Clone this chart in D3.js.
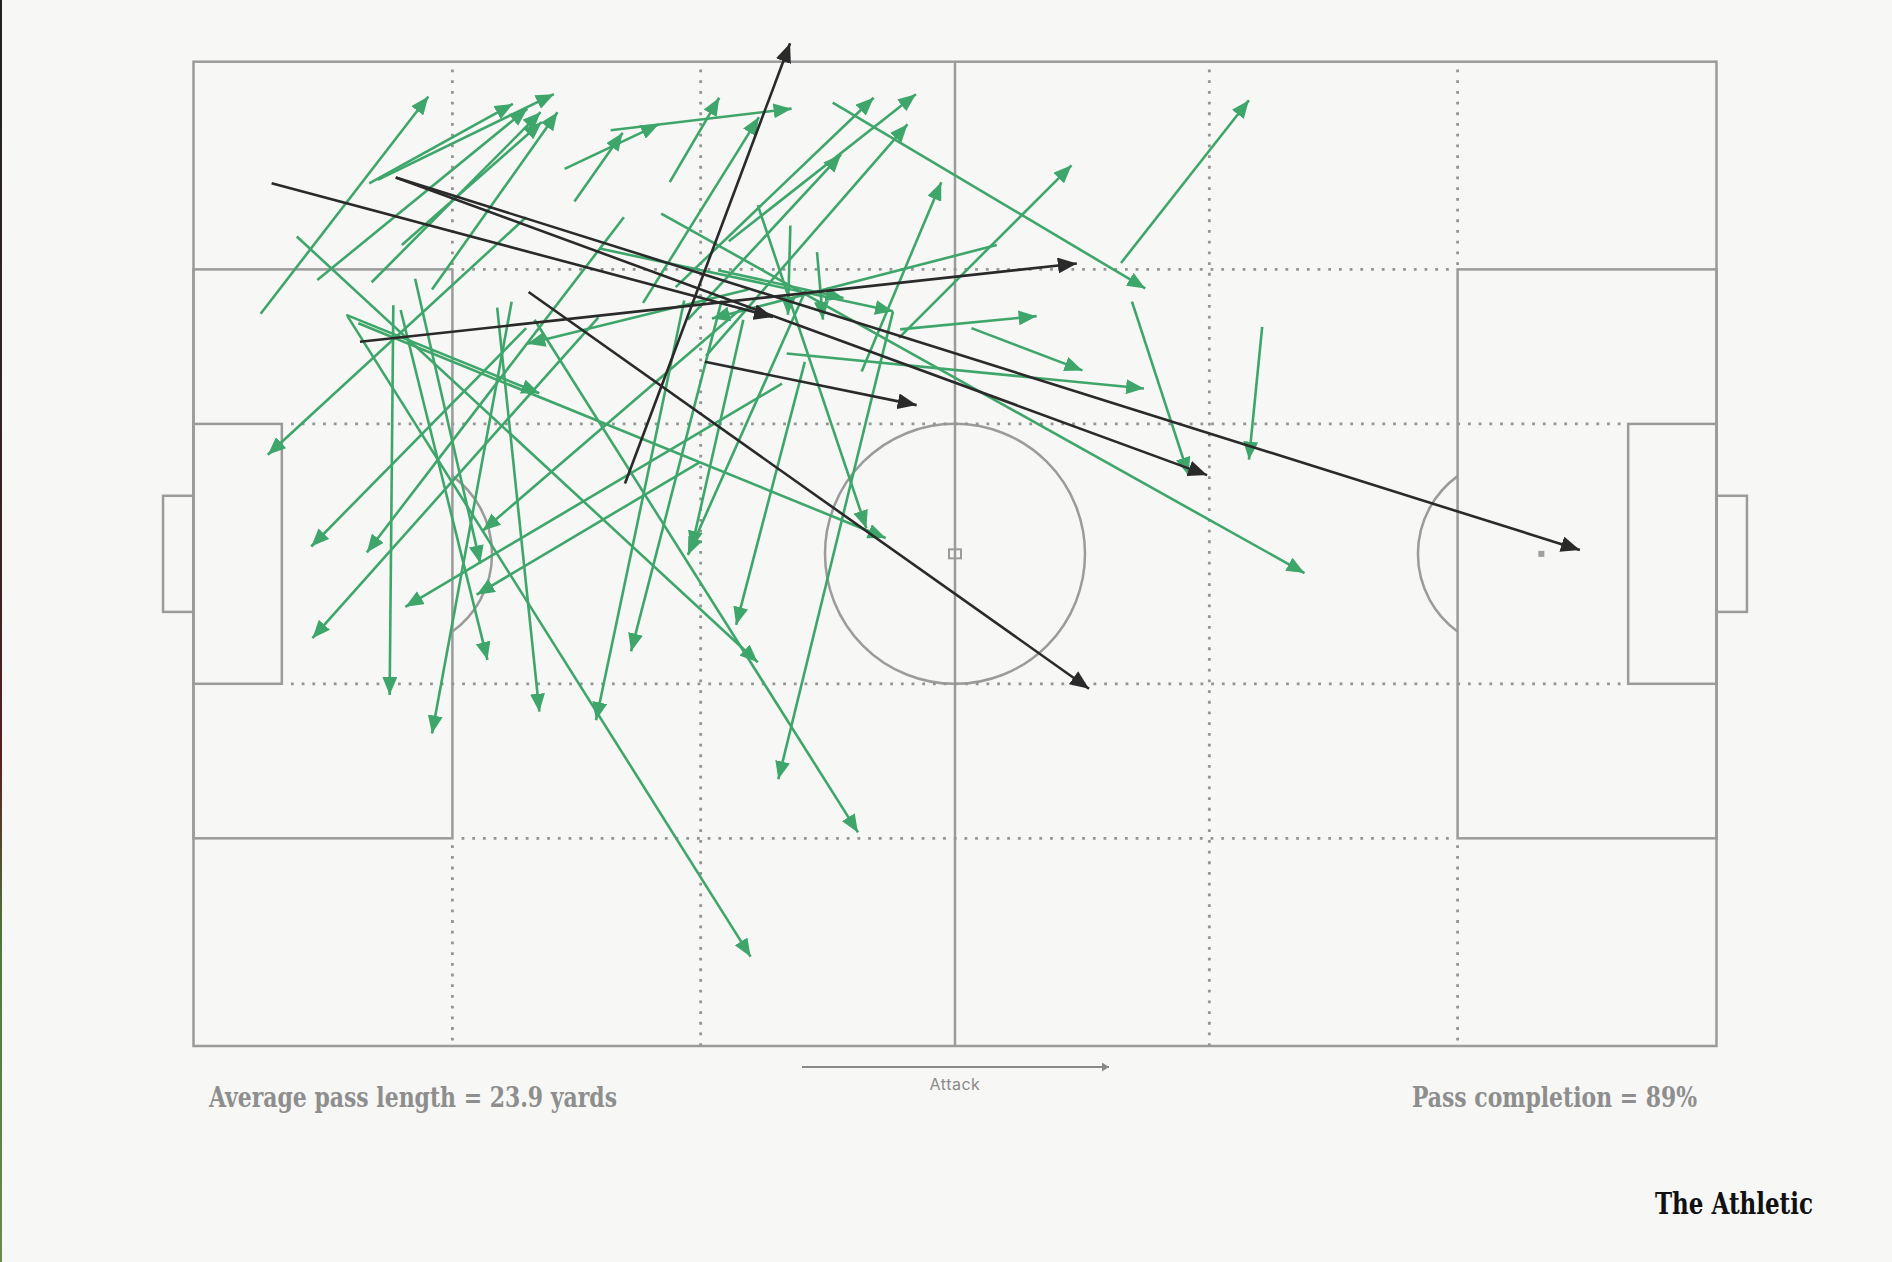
<!DOCTYPE html>
<html><head><meta charset="utf-8">
<script src="https://cdn.jsdelivr.net/npm/d3@7"></script>
<style>html,body{margin:0;padding:0;background:#f7f7f5;}svg{display:block}</style>
</head><body>
<svg id="chart" width="1892" height="1262"></svg>
<script>
// Pass data in Opta pitch units (0-100 x 0-100): [startX, startY, endX, endY]
const completedPasses = [
  [4.41,25.60,15.42,3.54],[11.54,12.37,20.97,4.28],[12.09,12.00,23.66,3.30],[8.13,22.17,21.92,4.77],
  [11.70,22.41,22.79,5.13],[15.66,23.15,23.90,5.13],[13.68,18.62,22.87,6.12],[25.01,14.20,28.18,7.22],
  [24.37,10.89,30.55,6.36],[27.39,6.97,39.27,4.77],[31.27,12.24,34.52,3.66],[29.52,24.50,37.13,5.63],
  [31.66,22.90,44.66,3.66],[35.15,18.25,47.43,3.30],[33.65,29.89,46.88,6.36],[32.46,26.21,42.52,9.42],
  [43.87,31.48,49.10,12.24],[46.32,28.05,57.65,10.53],[60.90,20.45,69.30,3.91],[41.97,4.15,62.49,23.03],
  [70.17,26.95,69.30,40.43],[61.62,24.38,65.34,42.02],[30.71,15.43,72.95,51.95],[51.08,27.07,58.37,31.36],
  [38.95,29.64,62.41,33.20],[46.40,27.19,55.36,25.85],[26.67,18.98,45.93,25.36],[37.05,14.57,44.18,47.41],
  [10.82,26.58,45.45,48.39],[52.74,18.62,34.04,26.09],[39.19,16.65,39.03,25.72],[40.94,19.35,41.33,26.21],
  [6.78,17.76,37.05,61.02],[22.39,26.21,43.63,78.30],[10.11,25.85,36.58,90.92],[45.93,25.36,38.40,72.90],
  [21.84,15.80,4.88,39.94],[21.84,27.07,7.73,49.25],[28.26,15.80,11.38,49.86],[26.59,25.97,7.81,58.57],
  [13.12,24.74,12.88,64.33],[20.89,24.38,15.66,68.25],[13.60,25.23,19.30,60.77],[19.94,24.99,22.71,66.04],
  [32.22,24.25,26.43,66.90],[34.68,24.25,28.73,59.91],[36.10,26.21,32.69,49.50],[40.22,23.15,32.46,50.11],
  [40.14,30.50,35.63,57.22],[36.42,23.15,21.92,28.66],[10.03,25.72,22.71,33.69],[38.64,32.71,13.91,55.38],
  [33.25,40.67,18.59,54.15],[36.02,24.99,18.99,47.66],[34.44,21.19,42.68,24.01],[14.55,22.05,18.83,50.97]
];
const incompletePasses = [
  [5.13,12.36,38.05,25.94],[13.28,11.76,66.55,42.00],[13.28,11.76,91.03,49.60],
  [10.93,28.46,58.00,20.50],[22.00,23.40,58.80,63.70],[28.33,42.85,39.17,-1.87],[33.58,30.49,47.48,34.89]
];
const statLabels = ["Average pass length = 23.9 yards", "Pass completion = 89%"];
const directionLabel = "Attack";
const brandLabel = "The Athletic";

const W = 1892, H = 1262;
const svg = d3.select("#chart");
const BG = "#f7f7f5", LINE = "#9b9b9b", GREEN = "#3fa66b", DARK = "#2a2a2a";

svg.append("rect").attr("width", W).attr("height", H).attr("fill", BG);
const grad = svg.append("defs").append("linearGradient").attr("id","edge").attr("x1",0).attr("y1",0).attr("x2",0).attr("y2",1);
grad.append("stop").attr("offset","0%").attr("stop-color","#222");
grad.append("stop").attr("offset","45%").attr("stop-color","#3a2222");
grad.append("stop").attr("offset","60%").attr("stop-color","#5a1e1e");
grad.append("stop").attr("offset","75%").attr("stop-color","#4d7a3a");
grad.append("stop").attr("offset","100%").attr("stop-color","#6a8a4a");
svg.append("rect").attr("x",0).attr("y",0).attr("width",2).attr("height",H).attr("fill","url(#edge)");

const x = d3.scaleLinear().domain([0, 100]).range([193.5, 1716.5]);
const y = d3.scaleLinear().domain([0, 100]).range([61.7, 1046]);

// markers
const defs = svg.select("defs");
function marker(id, color, len, wid) {
  defs.append("marker").attr("id", id).attr("markerUnits", "userSpaceOnUse")
    .attr("markerWidth", len).attr("markerHeight", wid).attr("refX", len).attr("refY", wid/2)
    .attr("orient", "auto").append("path")
    .attr("d", `M0,0 L${len},${wid/2} L0,${wid} Z`).attr("fill", color);
}
marker("mGreen", GREEN, 18, 15);
marker("mDark", DARK, 19, 16);
marker("mGray", "#8a8a8a", 7, 9);

// pitch
const pitch = svg.append("g").attr("fill", "none").attr("stroke", LINE).attr("stroke-width", 2.5);
const box = (x0, y0, x1, y1) => pitch.append("rect")
  .attr("x", x(x0)).attr("y", y(y0)).attr("width", x(x1) - x(x0)).attr("height", y(y1) - y(y0));
box(0, 0, 100, 100);
box(0, 21.1, 17, 78.9); box(83, 21.1, 100, 78.9);
box(0, 36.8, 5.8, 63.2); box(94.2, 36.8, 100, 63.2);
box(-2, 44.1, 0, 55.9); box(100, 44.1, 102, 55.9);
pitch.append("line").attr("x1", x(50)).attr("x2", x(50)).attr("y1", y(0)).attr("y2", y(100));
pitch.append("circle").attr("cx", x(50)).attr("cy", y(50)).attr("r", 130);
pitch.append("rect").attr("x", x(50) - 6).attr("y", y(50) - 4.5).attr("width", 12).attr("height", 9).attr("stroke-width", 2);
svg.append("rect").attr("x", x(88.5) - 3).attr("y", y(50) - 3)
  .attr("width", 6).attr("height", 6).attr("fill", "#a0a0a0");
// penalty arcs
const arcR = 96;
[[13.3, 17, 1], [86.7, 83, -1]].forEach(([c, edge, dir]) => {
  const cx = x(c), cy = y(50);
  const dx = Math.abs(x(edge) - cx);
  const a = Math.acos(dx / arcR);
  const p = d3.path();
  if (dir > 0) p.arc(cx, cy, arcR, -a, a);
  else p.arc(cx, cy, arcR, Math.PI - a, Math.PI + a);
  pitch.append("path").attr("d", p.toString());
});

// dotted guides
const dots = svg.append("g").attr("stroke", "#959595").attr("stroke-width", 2.8).attr("stroke-dasharray", "2.8 7.9");
const seg = (x1, y1, x2, y2) => dots.append("line").attr("x1", x(x1)).attr("y1", y(y1)).attr("x2", x(x2)).attr("y2", y(y2));
const top0 = 0.8;
[33.3, 66.7].forEach(v => seg(v, top0, v, 100));
[17, 83].forEach(v => { seg(v, top0, v, 21.1); seg(v, 79.6, v, 100); });
[21.1, 78.9].forEach(v => seg(17.6, v, 82.6, v));
[36.8, 63.2].forEach(v => seg(6.4, v, 93.8, v));

// passes
const gPass = svg.append("g").attr("fill", "none");
gPass.selectAll("line.ok").data(completedPasses).join("line").attr("class", "ok")
  .attr("x1", d => x(d[0])).attr("y1", d => y(d[1])).attr("x2", d => x(d[2])).attr("y2", d => y(d[3]))
  .attr("stroke", GREEN).attr("stroke-width", 2.6).attr("marker-end", "url(#mGreen)");
gPass.selectAll("line.ko").data(incompletePasses).join("line").attr("class", "ko")
  .attr("x1", d => x(d[0])).attr("y1", d => y(d[1])).attr("x2", d => x(d[2])).attr("y2", d => y(d[3]))
  .attr("stroke", DARK).attr("stroke-width", 2.6).attr("marker-end", "url(#mDark)");

// attack arrow
svg.append("line").attr("x1", 802).attr("x2", 1109).attr("y1", 1067).attr("y2", 1067)
  .attr("stroke", "#8a8a8a").attr("stroke-width", 2).attr("marker-end", "url(#mGray)");
svg.append("text").attr("x", 955).attr("y", 1090).attr("text-anchor", "middle")
  .attr("font-family", "Inter, 'Open Sans', sans-serif").attr("font-size", 16).attr("fill", "#8a8a8a")
  .attr("letter-spacing", 0.5).text(directionLabel);

// stats
const slab = "'DejaVu Serif Condensed','DejaVu Serif',serif";
svg.append("text").attr("x", 209).attr("y", 1107).attr("font-family", slab).attr("font-weight", "bold")
  .attr("font-size", 27).attr("fill", "#8e8e8e").attr("textLength", 408).attr("lengthAdjust", "spacingAndGlyphs")
  .text(statLabels[0]);
svg.append("text").attr("x", 1412).attr("y", 1107).attr("font-family", slab).attr("font-weight", "bold")
  .attr("font-size", 27).attr("fill", "#8e8e8e").attr("textLength", 285).attr("lengthAdjust", "spacingAndGlyphs")
  .text(statLabels[1]);
svg.append("text").attr("x", 1655).attr("y", 1214).attr("font-family", slab).attr("font-weight", "bold")
  .attr("font-size", 29).attr("fill", "#111").attr("textLength", 158).attr("lengthAdjust", "spacingAndGlyphs")
  .text(brandLabel);
</script>
</body></html>
